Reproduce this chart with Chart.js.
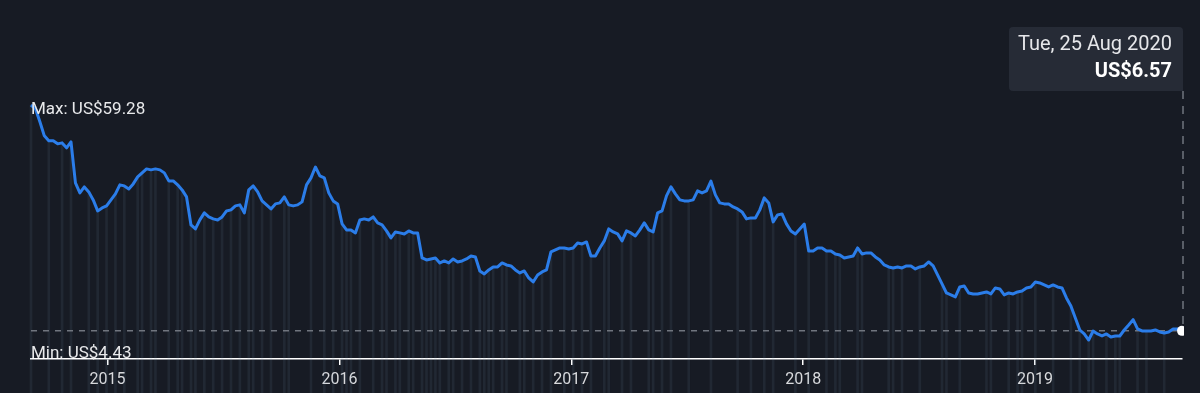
<!DOCTYPE html>
<html>
<head>
<meta charset="utf-8">
<script src="https://cdn.jsdelivr.net/npm/chart.js@4.4.0/dist/chart.umd.min.js"></script>
<style>
  html, body { margin: 0; padding: 0; background: #171b24; }
  #wrap { width: 1200px; height: 393px; position: relative; }
</style>
</head>
<body>
<div id="wrap"><canvas id="priceChart"></canvas></div>
<script>
// weekly closes, first week ~ early Sep 2014
const prices = [
  59.28, 58.39, 55.35, 52.08, 50.91, 50.91, 50.21, 50.44, 49.28, 50.68,
  41.10, 38.77, 40.17, 39.00, 37.13, 34.56, 35.26, 35.73, 37.13, 38.53,
  40.64, 40.40, 39.70, 40.87, 42.50, 43.44, 44.37, 44.14, 44.37, 44.14,
  43.44, 41.57, 41.57, 40.64, 39.47, 37.83, 31.29, 30.36, 32.46, 34.10,
  33.16, 32.70, 32.46, 33.16, 34.56, 34.80, 35.73, 35.97, 34.10, 39.47,
  40.40, 39.00, 36.90, 35.97, 35.03, 36.20, 36.43, 37.83, 35.97, 35.73,
  35.97, 36.67, 40.64, 42.27, 44.80, 42.74, 42.27, 38.77, 36.90, 36.20,
  31.53, 30.13, 30.13, 29.43, 32.46, 32.70, 32.46, 33.16, 31.76, 31.29,
  29.89, 28.26, 29.66, 29.43, 29.19, 29.89, 29.43, 29.43, 23.59, 23.12,
  23.35, 23.59, 22.42, 22.89, 22.42, 23.35, 22.65, 22.89, 23.35, 24.05,
  23.82, 20.55, 19.85, 20.78, 21.49, 21.49, 22.42, 21.95, 21.72, 20.78,
  20.08, 20.55, 18.92, 17.98, 19.62, 20.32, 20.78, 24.99, 25.46, 25.92,
  25.92, 25.69, 25.92, 27.09, 26.86, 27.32, 24.05, 24.05, 25.92, 27.56,
  30.36, 29.66, 29.19, 27.56, 29.89, 29.43, 28.73, 30.13, 31.76, 30.13,
  29.66, 34.10, 34.56, 38.07, 40.17, 38.53, 37.13, 36.90, 36.90, 37.13,
  39.23, 38.77, 39.23, 41.50, 38.30, 36.43, 36.20, 36.20, 35.50, 35.03,
  34.33, 32.70, 32.93, 32.93, 34.80, 37.60, 36.43, 32.00, 33.63, 33.86,
  31.53, 29.89, 29.19, 30.36, 31.50, 25.22, 25.22, 25.92, 25.92, 25.22,
  25.22, 24.52, 24.29, 23.59, 23.82, 24.05, 25.92, 24.52, 24.76, 24.76,
  23.82, 23.12, 21.95, 21.49, 21.25, 21.49, 21.25, 21.72, 21.72, 21.02,
  21.49, 21.72, 22.65, 21.72, 19.62, 17.52, 15.41, 14.95, 14.48, 16.81,
  17.05, 15.41, 15.18, 15.18, 15.41, 15.65, 15.18, 16.58, 16.35, 14.95,
  15.41, 15.18, 15.65, 15.88, 16.58, 16.81, 17.98, 17.75, 17.28, 16.81,
  17.28, 16.81, 16.58, 14.25, 12.38, 9.58, 6.77, 5.84, 4.43, 6.54,
  5.84, 5.37, 5.84, 5.14, 5.37, 5.37, 6.77, 7.94, 9.20, 7.01,
  6.54, 6.54, 6.54, 6.77, 6.31, 6.07, 6.31, 7.01, 7.01, 6.57
];

// weeks that carry an event marker
const eventWeeks = [
  0, 4, 7, 9, 13, 15, 17, 19, 21, 24, 25, 27, 28, 31, 33, 34, 36, 37, 39, 41,
  43, 45, 47, 49, 50, 52, 54, 57, 58, 63, 66, 68, 70, 71, 72, 74, 77, 79, 80, 82,
  83, 85, 86, 88, 89, 90, 91, 92, 94, 95, 97, 99, 101, 102, 103, 104, 106, 107, 110, 111,
  113, 115, 117, 120, 122, 124, 126, 129, 130, 133, 135, 139, 140, 142, 144, 148, 153, 159, 162, 165,
  167, 172, 175, 179, 181, 182, 186, 187, 193, 194, 196, 200, 205, 206, 209, 215, 216, 220, 222, 223,
  226, 230, 234, 236, 238, 239, 242, 244, 245, 249, 251, 255
];

const yearLabels = [2015, 2016, 2017, 2018, 2019];
const startYear = 2014.67;
const weeksPerYear = 52.18;

const maxPrice = 59.28;
const minPrice = 4.43;
const currentPrice = 6.57;
const currentDate = 'Tue, 25 Aug 2020';

const lastIdx = prices.length - 1;
const lineData = prices.map((p, i) => ({ x: i, y: p }));
const eventData = eventWeeks.map(w => ({ x: w, y: [-12, prices[w]] }));
const yearPos = yearLabels.map(yr => (yr - startYear) * weeksPerYear);

const overlay = {
  id: 'overlay',
  afterDraw(chart) {
    const { ctx, chartArea, scales: { x, y } } = chart;
    ctx.save();

    ctx.font = '17px Roboto';
    ctx.fillStyle = '#e8e9eb';
    ctx.textAlign = 'left';
    ctx.textBaseline = 'middle';
    ctx.fillText('Max: US$' + maxPrice.toFixed(2), chartArea.left, chartArea.top + 5);
    ctx.fillText('Min: US$' + minPrice.toFixed(2), chartArea.left, chartArea.bottom - 5);

    // tooltip box
    const boxR = chartArea.right + 1, boxW = 174, boxT = 27, boxH = 64;
    ctx.fillStyle = '#262b36';
    ctx.beginPath();
    ctx.roundRect(boxR - boxW, boxT, boxW, boxH, [4, 4, 0, 4]);
    ctx.fill();

    ctx.textAlign = 'right';
    ctx.fillStyle = '#e6e7ea';
    ctx.font = '20px Roboto';
    ctx.fillText(currentDate, boxR - 11, boxT + 18);
    ctx.fillStyle = '#ffffff';
    ctx.font = 'bold 20px Roboto';
    ctx.fillText('US$' + currentPrice.toFixed(2), boxR - 11, boxT + 45);

    // dashed drop line from the box to the last point
    const lx = x.getPixelForValue(lastIdx);
    const ly = y.getPixelForValue(prices[lastIdx]);
    ctx.strokeStyle = '#70757e';
    ctx.lineWidth = 1.5;
    ctx.setLineDash([8, 7]);
    ctx.beginPath();
    ctx.moveTo(lx + 1, boxT + boxH);
    ctx.lineTo(lx + 1, ly - 6);
    ctx.stroke();
    ctx.restore();
  }
};

const chart = new Chart(document.getElementById('priceChart').getContext('2d'), {
  type: 'line',
  data: {
    datasets: [
      {
        label: 'price',
        data: lineData,
        borderColor: '#2b7de9',
        borderWidth: 3,
        borderJoinStyle: 'round',
        tension: 0,
        pointRadius: c => c.dataIndex === lastIdx ? 5 : 0,
        pointBackgroundColor: '#ffffff',
        pointBorderWidth: 0,
        clip: { left: 3, top: 8, right: 2, bottom: 3 },
        order: 0
      },
      {
        label: 'current',
        data: [{ x: 0, y: currentPrice }, { x: lastIdx, y: currentPrice }],
        borderColor: '#70757e',
        borderWidth: 1.5,
        borderDash: [6, 6],
        pointRadius: 0,
        order: 1
      },
      {
        type: 'bar',
        label: 'events',
        data: eventData,
        backgroundColor: 'rgba(120,150,170,0.11)',
        borderWidth: 0,
        barThickness: 2,
        clip: false,
        order: 2
      }
    ]
  },
  options: {
    responsive: true,
    maintainAspectRatio: false,
    animation: false,
    events: [],
    layout: { padding: { top: 105, left: 31, right: 18, bottom: 0 } },
    plugins: { legend: { display: false }, tooltip: { enabled: false } },
    scales: {
      x: {
        type: 'linear',
        min: 0,
        max: lastIdx,
        offset: false,
        z: 1,
        afterFit: s => { s.height = 34; },
        afterBuildTicks: s => { s.ticks = yearPos.map(v => ({ value: v })); },
        border: { display: true, color: '#ffffff', width: 1.5 },
        grid: { display: true, offset: false, drawOnChartArea: false, drawTicks: true, tickLength: 6, color: '#ffffff', lineWidth: 1.5 },
        ticks: {
          color: '#d9dadd',
          font: { family: 'Roboto', size: 16 },
          padding: 5,
          maxRotation: 0,
          autoSkip: false,
          callback: v => {
            const i = yearPos.findIndex(p => Math.abs(p - v) < 0.01);
            return i >= 0 ? String(yearLabels[i]) : '';
          }
        }
      },
      y: { display: false, min: 0, max: maxPrice }
    }
  },
  plugins: [overlay]
});
</script>
</body>
</html>
